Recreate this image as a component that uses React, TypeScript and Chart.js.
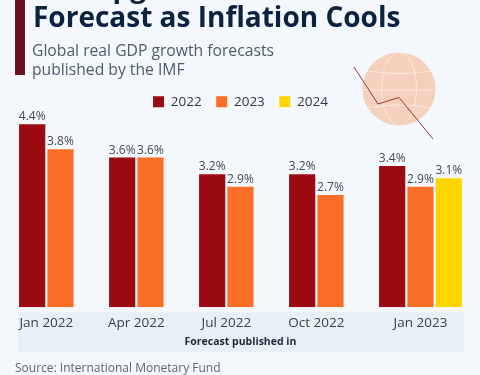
import React, { useEffect, useRef } from "react";
import { Chart, registerables } from "chart.js";

Chart.register(...registerables);

const categories = ["Jan 2022", "Apr 2022", "Jul 2022", "Oct 2022", "Jan 2023"];
const values2022 = [4.4, 3.6, 3.2, 3.2, 3.4];
const values2023 = [3.8, 3.6, 2.9, 2.7, 2.9];
const values2024 = [null, null, null, null, 3.1];
const seriesNames = ["2022", "2023", "2024"];
const seriesColors = ["#9c0a12", "#fb6e27", "#ffd500"];
const FONT = '"Open Sans", sans-serif';

const bandPlugin = {
  id: "band",
  beforeDraw(chart: any) {
    const { ctx } = chart;
    const x = chart.scales.x;
    ctx.save();
    ctx.fillStyle = "#e9eff6";
    ctx.fillRect(x.left + 2.5, x.top + 5, x.width - 4, 40);
    ctx.restore();
  },
};

const valueLabelPlugin = {
  id: "valueLabels",
  afterDatasetsDraw(chart: any) {
    const { ctx } = chart;
    ctx.save();
    ctx.font = `12px ${FONT}`;
    ctx.fillStyle = "#3e4b58";
    ctx.textAlign = "center";
    ctx.textBaseline = "alphabetic";
    chart.data.datasets.forEach((ds: any, i: number) => {
      chart.getDatasetMeta(i).data.forEach((el: any, j: number) => {
        const v = ds.data[j];
        if (v == null) return;
        ctx.fillText(`${v.toFixed(1)}%`, el.x, el.y - 4);
      });
    });
    ctx.restore();
  },
};

export default function App() {
  const ref = useRef<HTMLCanvasElement>(null);
  useEffect(() => {
    document.body.style.margin = "0";
    const chart = new Chart(ref.current!, {
      type: "bar",
      data: {
        labels: categories,
        datasets: [values2022, values2023, values2024].map((data, i) => ({
          label: seriesNames[i],
          data,
          backgroundColor: seriesColors[i],
          categoryPercentage: 0.944,
          barPercentage: 0.925,
        })),
      } as any,
      options: {
        animation: false,
        responsive: false,
        layout: { padding: { left: 15.5, right: 14.5, top: 80.5, bottom: 27 } },
        plugins: {
          legend: {
            position: "top",
            align: "center",
            labels: {
              boxWidth: 11,
              boxHeight: 11,
              padding: 14.5,
              color: "#2c3a48",
              font: { family: FONT, size: 13.5 },
            },
          },
          tooltip: { enabled: false },
        },
        scales: {
          x: {
            grid: { display: false },
            border: { display: false },
            afterTickToLabelConversion(scale: any) {
              // two-bar groups: centre the label under the bars actually drawn
              scale.ticks.forEach((t: any, i: number) => {
                if (values2024[i] == null) t.value = i - 0.157;
              });
            },
            ticks: {
              autoSkip: false,
              maxRotation: 0,
              padding: 0,
              color: "#36434f",
              font: { family: FONT, size: 13.5 },
            },
            title: {
              display: true,
              text: "Forecast published in",
              color: "#1f2a36",
              padding: { top: 4, bottom: 0 },
              font: { family: FONT, size: 10.5, weight: "bold" },
            },
          },
          y: {
            display: false,
            min: 0,
            max: 4.54,
          },
        },
      },
      plugins: [bandPlugin, valueLabelPlugin],
    } as any);
    return () => chart.destroy();
  }, []);

  return (
    <div style={{ position: "relative", width: 480, height: 375, overflow: "hidden", background: "#f4f7fb", fontFamily: FONT }}>
      <canvas ref={ref} width={480} height={375} style={{ position: "absolute", left: 0, top: 0, display: "block" }} />
      <div style={{ position: "absolute", left: 15, top: 0, width: 10, height: 75, background: "#6e1023" }} />
      <div style={{ position: "absolute", left: 33, top: -29, fontSize: 28, lineHeight: "30px", fontWeight: 700, color: "#0c2340", whiteSpace: "nowrap" }}>
        IMF Upgrades Global Growth
        <br />
        Forecast as Inflation Cools
      </div>
      <div style={{ position: "absolute", left: 32, top: 41, fontSize: 15.7, lineHeight: "19px", color: "#4c5c6c", whiteSpace: "nowrap" }}>
        Global real GDP growth forecasts
        <br />
        published by the IMF
      </div>
      <svg width={110} height={100} style={{ position: "absolute", left: 340, top: 50 }} viewBox="340 50 110 100">
        <circle cx={399} cy={89} r={36.5} fill="#f5d0bd" />
        <g fill="none" stroke="#fbeadf" strokeWidth={0.9}>
          <line x1={362.5} y1={90} x2={435.5} y2={90} />
          <ellipse cx={399} cy={89} rx={17.5} ry={36.5} />
          <path d="M367 71 Q399 76 431 71" />
          <path d="M367 108 Q399 102 431 108" />
        </g>
        <polyline points="354,67 378,104 399,97.5 433,139" fill="none" stroke="#8f3a3c" strokeWidth={1} />
      </svg>
      <div style={{ position: "absolute", left: 15, top: 360, fontSize: 12, lineHeight: "16px", color: "#5a6875", whiteSpace: "nowrap" }}>
        Source: International Monetary Fund
      </div>
    </div>
  );
}
